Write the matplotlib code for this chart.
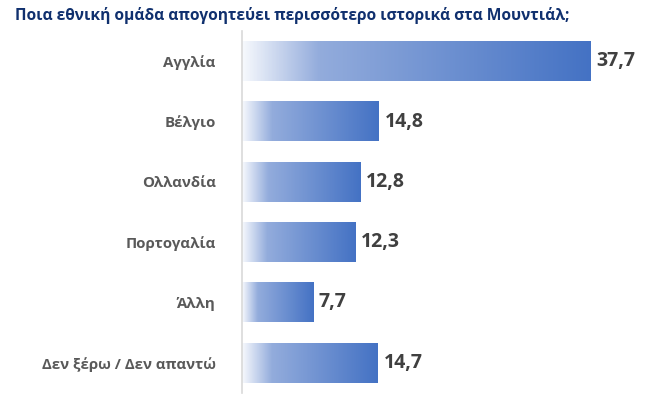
import matplotlib.pyplot as plt
import numpy as np
from matplotlib.colors import LinearSegmentedColormap

plt.rcParams['font.family'] = ['Open Sans', 'DejaVu Sans']

categories = ["Αγγλία", "Βέλγιο", "Ολλανδία", "Πορτογαλία", "Άλλη", "Δεν ξέρω / Δεν απαντώ"]
values = [37.7, 14.8, 12.8, 12.3, 7.7, 14.7]
value_labels = ["37,7", "14,8", "12,8", "12,3", "7,7", "14,7"]
title = "Ποια εθνική ομάδα απογοητεύει περισσότερο ιστορικά στα Μουντιάλ;"

cmap = LinearSegmentedColormap.from_list(
    "grad", [(0.0, "#f7f9fd"), (0.22, "#93acdc"), (1.0, "#4472c4")])
grad = np.linspace(0, 1, 256).reshape(1, -1)

fig = plt.figure(figsize=(6.6, 4.12), dpi=100)
ax = fig.add_axes([242 / 660, 1 - 393 / 412, 370 / 660, 362 / 412])

bar_h = 0.66
ypos = np.arange(len(categories))[::-1]
for y, v, lab in zip(ypos, values, value_labels):
    ax.imshow(grad, cmap=cmap, aspect="auto",
              extent=[0, v, y - bar_h / 2, y + bar_h / 2], zorder=2)
    ax.text(v + 0.6, y, lab, va="center", ha="left", fontsize=14,
            fontweight="bold", color="#404040")

ax.set_xlim(0, 40)
ax.set_ylim(-0.5, len(categories) - 0.5)
ax.set_yticks(ypos)
ax.set_yticklabels(categories, fontsize=10.8, fontweight="bold", color="#595959")
ax.tick_params(axis="y", length=0, pad=19)
ax.set_xticks([])
for s in ["top", "right", "bottom"]:
    ax.spines[s].set_visible(False)
ax.spines["left"].set_color("#d9d9d9")
ax.spines["left"].set_linewidth(1.2)

fig.text(15 / 660, 1 - 16 / 412, title, fontsize=11.2, fontweight="bold",
         color="#10306e", va="center", ha="left")

fig.savefig("out.png", dpi=100)
